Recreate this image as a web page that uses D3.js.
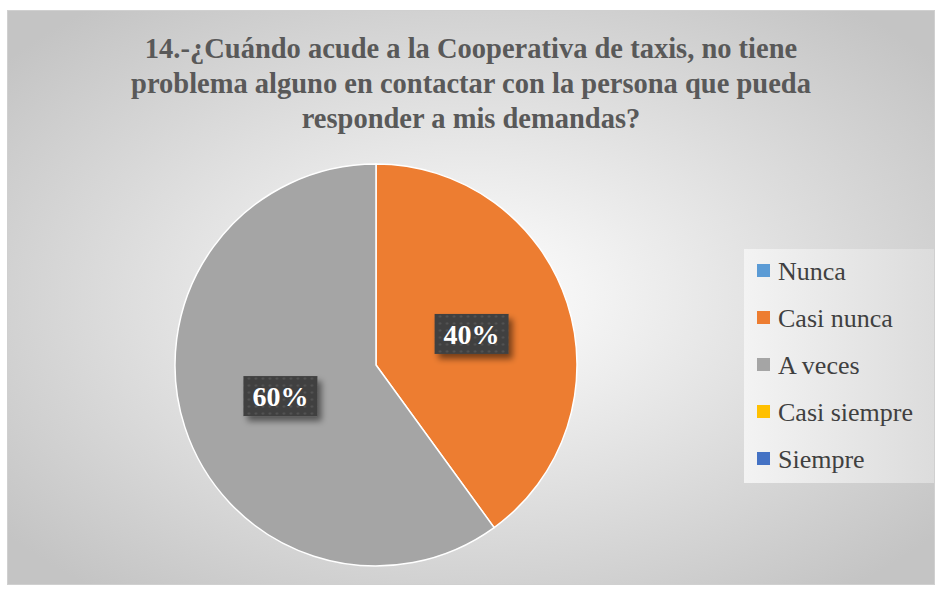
<!DOCTYPE html>
<html lang="es">
<head>
<meta charset="utf-8" />
<script src="https://d3js.org/d3.v7.min.js"></script>
<style>
  body { margin: 0; background: #fff; }
  text { font-family: "Liberation Serif", "Times New Roman", serif; }
</style>
</head>
<body>
<svg width="936" height="590"></svg>
<script>
var titleLines = [
  "14.-¿Cuándo acude a la Cooperativa de taxis, no tiene",
  "problema alguno en contactar con la persona que pueda",
  "responder a mis demandas?"
];
var categories = ["Nunca", "Casi nunca", "A veces", "Casi siempre", "Siempre"];
var values = [0, 40, 60, 0, 0];
var colors = ["#5b9bd5", "#ed7d31", "#a5a5a5", "#ffc000", "#4472c4"];

var svg = d3.select("svg");
var defs = svg.append("defs");

// chart background: radial gradient white centre to grey
var bg = defs.append("radialGradient").attr("id", "bg")
  .attr("cx", "50%").attr("cy", "50%").attr("r", "65%");
bg.append("stop").attr("offset", "0%").attr("stop-color", "#ffffff");
bg.append("stop").attr("offset", "100%").attr("stop-color", "#c4c4c4");

var lg = defs.append("linearGradient").attr("id", "lg")
  .attr("x1", "0").attr("x2", "1").attr("y1", "0").attr("y2", "0");
lg.append("stop").attr("offset", "0%").attr("stop-color", "#f3f3f3");
lg.append("stop").attr("offset", "100%").attr("stop-color", "#dcdcdc");

var pat = defs.append("pattern").attr("id", "dots")
  .attr("width", 7).attr("height", 7).attr("patternUnits", "userSpaceOnUse");
pat.append("rect").attr("width", 7).attr("height", 7).attr("fill", "#404040");
pat.append("circle").attr("cx", 3.5).attr("cy", 3.5).attr("r", 1.2).attr("fill", "#555");

var shadow = defs.append("filter").attr("id", "shadow")
  .attr("x", "-20%").attr("y", "-20%").attr("width", "150%").attr("height", "160%");
shadow.append("feGaussianBlur").attr("in", "SourceAlpha").attr("stdDeviation", 3);
shadow.append("feOffset").attr("dx", 4).attr("dy", 5).attr("result", "b");
shadow.append("feComponentTransfer").append("feFuncA").attr("type", "linear").attr("slope", 0.5);
var merge = shadow.append("feMerge");
merge.append("feMergeNode");
merge.append("feMergeNode").attr("in", "SourceGraphic");

svg.append("rect")
  .attr("x", 7.5).attr("y", 10.5).attr("width", 927).attr("height", 574)
  .attr("fill", "url(#bg)").attr("stroke", "#d0d0d0");

// title
svg.append("g").selectAll("text")
  .data(titleLines)
  .join("text")
  .attr("x", 471)
  .attr("y", (d, i) => 58 + i * 35)
  .attr("text-anchor", "middle")
  .attr("font-size", 28.5)
  .attr("font-weight", "bold")
  .attr("fill", "#595959")
  .text(d => d);

// pie
var cx = 376, cy = 365, r = 201;
var pie = d3.pie().sort(null).value(d => d.v);
var arcs = pie(categories.map((c, i) => ({ c: c, v: values[i], col: colors[i] })));
var arc = d3.arc().innerRadius(0).outerRadius(r);

var g = svg.append("g").attr("transform", "translate(" + cx + "," + cy + ")");
g.selectAll("path")
  .data(arcs.filter(d => d.data.v > 0))
  .join("path")
  .attr("d", arc)
  .attr("fill", d => d.data.col)
  .attr("stroke", "#fff")
  .attr("stroke-width", 1.5);

// data labels
var labelArc = d3.arc().innerRadius(r * 0.5).outerRadius(r * 0.5);
var lab = g.selectAll("g.lab")
  .data(arcs.filter(d => d.data.v > 0))
  .join("g")
  .attr("class", "lab")
  .attr("transform", function(d) {
    var p = labelArc.centroid(d);
    return "translate(" + p[0] + "," + p[1] + ")";
  });
lab.append("rect")
  .attr("x", -37).attr("y", -20).attr("width", 74).attr("height", 40)
  .attr("fill", "url(#dots)")
  .attr("filter", "url(#shadow)");
lab.append("text")
  .attr("text-anchor", "middle")
  .attr("dy", 10)
  .attr("font-size", 28)
  .attr("font-weight", "bold")
  .attr("fill", "#fff")
  .text(d => d.data.v + "%");

// legend
var legend = svg.append("g");
legend.append("rect")
  .attr("x", 744).attr("y", 249).attr("width", 190).attr("height", 234)
  .attr("fill", "url(#lg)");
var items = legend.selectAll("g.item")
  .data(categories)
  .join("g")
  .attr("class", "item")
  .attr("transform", (d, i) => "translate(757," + (271 + i * 47) + ")");
items.append("rect")
  .attr("x", 0).attr("y", -7).attr("width", 13).attr("height", 13)
  .attr("fill", (d, i) => colors[i]);
items.append("text")
  .attr("x", 21).attr("y", 9)
  .attr("font-size", 26)
  .attr("fill", "#404040")
  .text(d => d);
</script>
</body>
</html>
